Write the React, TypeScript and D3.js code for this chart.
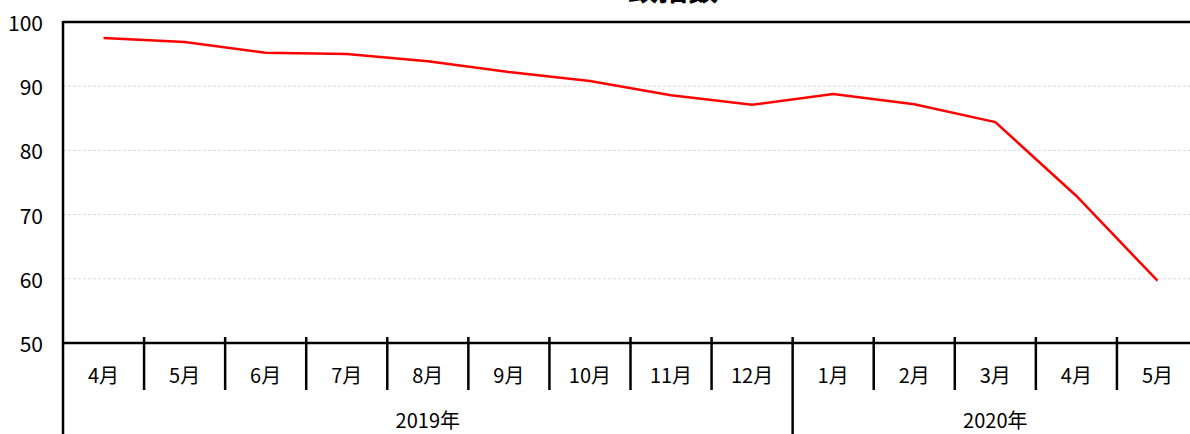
import React, { useEffect, useRef } from 'react'
import * as d3 from 'd3'

// coincident index, monthly
const months = ['4月', '5月', '6月', '7月', '8月', '9月', '10月', '11月', '12月', '1月', '2月', '3月', '4月', '5月']
const years = ['2019年', '2019年', '2019年', '2019年', '2019年', '2019年', '2019年', '2019年', '2019年', '2020年', '2020年', '2020年', '2020年', '2020年']
const values = [97.5, 96.9, 95.2, 95.0, 93.9, 92.2, 90.8, 88.6, 87.1, 88.8, 87.2, 84.4, 72.9, 59.7]
const yTicks = [50, 60, 70, 80, 90, 100]
const title = '一致指数'

const W = 1190
const H = 434
const FONT = '"Noto Sans CJK JP", "Noto Sans", sans-serif'

export default function App() {
  const ref = useRef<SVGSVGElement>(null)

  useEffect(() => {
    const svg = d3.select(ref.current!)
    svg.selectAll('*').remove()

    const left = 63
    const right = 1198 // plot runs past the picture edge
    const top = 22
    const bottom = 343

    const idx = months.map((_, i) => i)
    const x = d3.scaleBand<number>().domain(idx).range([left, right])
    const y = d3.scaleLinear().domain([50, 100]).range([bottom, top])

    // 1) title, mostly clipped off the top
    svg.append('text')
      .attr('x', 658).attr('y', 0)
      .attr('text-anchor', 'middle')
      .style('font', `bold 30px ${FONT}`)
      .text(title)

    // 2) gridlines
    svg.append('g')
      .selectAll('line')
      .data(yTicks.filter(t => t > 50 && t < 100))
      .enter()
      .append('line')
      .attr('x1', left).attr('x2', right)
      .attr('y1', d => y(d)).attr('y2', d => y(d))
      .attr('stroke', '#d9d9d9')
      .attr('stroke-width', 1)
      .attr('stroke-dasharray', '3,2')

    // 3) y labels
    svg.append('g')
      .selectAll('text')
      .data(yTicks)
      .enter()
      .append('text')
      .attr('x', 43).attr('y', d => y(d))
      .attr('text-anchor', 'end')
      .attr('dominant-baseline', 'central')
      .style('font', `21px ${FONT}`)
      .attr('fill', '#000')
      .text(d => d)

    // 4) frame
    svg.append('line')
      .attr('x1', left).attr('x2', right).attr('y1', top).attr('y2', top)
      .attr('stroke', '#000').attr('stroke-width', 2.5)
    svg.append('line')
      .attr('x1', left).attr('x2', right).attr('y1', bottom).attr('y2', bottom)
      .attr('stroke', '#000').attr('stroke-width', 2.5)
    svg.append('line')
      .attr('x1', left).attr('x2', left).attr('y1', top - 1).attr('y2', H)
      .attr('stroke', '#000').attr('stroke-width', 2.5)

    // 5) month separators and labels
    svg.append('g')
      .selectAll('line')
      .data(idx.slice(1))
      .enter()
      .append('line')
      .attr('x1', d => x(d)!).attr('x2', d => x(d)!)
      .attr('y1', bottom - 6)
      .attr('y2', d => (years[d] !== years[d - 1] ? H : bottom + 47))
      .attr('stroke', '#000').attr('stroke-width', 2.5)

    svg.append('g')
      .selectAll('text')
      .data(idx)
      .enter()
      .append('text')
      .attr('x', d => x(d)! + x.bandwidth() / 2)
      .attr('y', 374)
      .attr('text-anchor', 'middle')
      .attr('dominant-baseline', 'central')
      .style('font', `20px ${FONT}`)
      .text(d => months[d])

    // 6) year labels
    const groups = d3.groups(idx, i => years[i])
    svg.append('g')
      .selectAll('text')
      .data(groups)
      .enter()
      .append('text')
      .attr('x', ([, ids]) => (x(ids[0])! + x(ids[ids.length - 1])! + x.bandwidth()) / 2)
      .attr('y', 419)
      .attr('text-anchor', 'middle')
      .attr('dominant-baseline', 'central')
      .style('font', `20px ${FONT}`)
      .text(([k]) => k)

    // 7) line
    const line = d3.line<number>()
      .x((_, i) => x(i)! + x.bandwidth() / 2)
      .y(d => y(d))
    svg.append('path')
      .datum(values)
      .attr('d', line)
      .attr('fill', 'none')
      .attr('stroke', '#ff0000')
      .attr('stroke-width', 2.5)
  }, [])

  return (
    <svg
      ref={ref}
      width={W}
      height={H}
      style={{ position: 'absolute', left: 0, top: 0, background: '#fff' }}
    />
  )
}
